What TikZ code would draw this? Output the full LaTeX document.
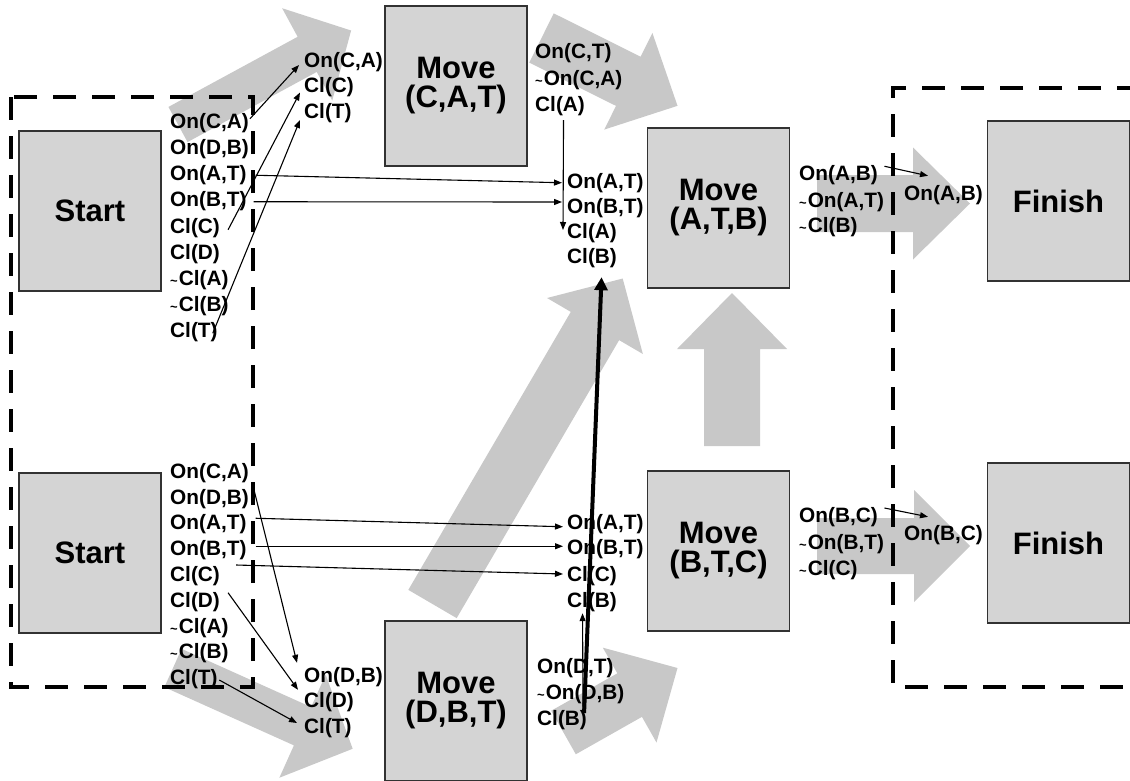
\documentclass[tikz,border=0pt]{standalone}
\usepackage{fontspec}
\setmainfont{Liberation Sans}
\usetikzlibrary{arrows.meta,calc}
\definecolor{fatgray}{RGB}{200,200,200}
\definecolor{boxgray}{RGB}{212,212,212}
\definecolor{boxedge}{RGB}{50,50,50}
\newcommand{\tl}{{\fontsize{13}{13}\selectfont\textasciitilde}\kern1pt}
% #1 x, #2 y (tail centre), #3 angle, #4 length, #5 shaft width, #6 head width, #7 head length
\newcommand{\fatarrow}[7]{%
  \begin{scope}[shift={(#1,#2)},rotate=#3]
    \fill[fatgray] (0,{-#5/2}) -- ({#4-#7},{-#5/2}) -- ({#4-#7},{-#6/2}) -- (#4,0)
      -- ({#4-#7},{#6/2}) -- ({#4-#7},{#5/2}) -- (0,{#5/2}) -- cycle;
  \end{scope}}
\begin{document}
\begin{tikzpicture}[x=1pt,y=-1pt,
  box/.style={draw=boxedge, line width=1.3pt, fill=boxgray, minimum width=142pt,
    minimum height=160pt, inner sep=0pt, align=center,
    font=\bfseries\fontsize{31}{29}\selectfont},
  lit/.style={anchor=base west, inner sep=0pt, text height=15pt, text depth=4.5pt,
    font=\bfseries\fontsize{20.8}{24}\selectfont},
  conn/.style={-{Triangle[length=8pt,width=6pt]}, line width=1.1pt},
  thickconn/.style={-{Triangle[length=13pt,width=13pt]}, line width=4pt},
  dashbox/.style={line width=4.5pt, dash pattern=on 23pt off 16pt}]
\path[use as bounding box] (0,0) rectangle (1130,780);
\clip (0,0) rectangle (1130,780);

% big grey block arrows
\fatarrow{178}{124.5}{28.5}{197}{40}{105}{50}
\fatarrow{541.5}{38}{-26.5}{152}{55}{108}{55}
\fatarrow{173}{668}{-24.2}{197}{42}{113}{55}
\fatarrow{563.5}{732.5}{29.5}{131}{50}{109}{55}
\fatarrow{432.5}{604}{59.7}{377}{56}{111}{55}
\fatarrow{732}{446}{90}{153}{56}{110}{56}
\fatarrow{817}{203.5}{0}{153}{57}{112}{57}
\fatarrow{817}{546}{0}{153}{56}{112}{56}

% boxes
\node[box] (startA) at (90,211) {Start};
\node[box] (startB) at (90,553) {Start};
\node[box] (cat) at (456,86) {Move\\(C,A,T)};
\node[box] (atb) at (718.5,208) {Move\\(A,T,B)};
\node[box] (btc) at (718.5,551) {Move\\(B,T,C)};
\node[box] (dbt) at (456,701) {Move\\(D,B,T)};
\node[box] (finA) at (1058.5,201) {Finish};
\node[box] (finB) at (1058.5,543) {Finish};

% dashed groups
\draw[dashbox] (11,97) rectangle (253,687);
\draw[dashbox] (1140,88) -- (893,88) -- (893,687) -- (1140,687);

% start (top) literals
\node[lit] (sA1) at (170,128) {On(C,A)};
\node[lit] (sA2) at (170,154) {On(D,B)};
\node[lit] (sA3) at (170,180.5) {On(A,T)};
\node[lit] (sA4) at (170,206.5) {On(B,T)};
\node[lit] (sA5) at (170,233) {Cl(C)};
\node[lit] (sA6) at (170,259) {Cl(D)};
\node[lit] (sA7) at (170,285) {\tl Cl(A)};
\node[lit] (sA8) at (170,311.5) {\tl Cl(B)};
\node[lit] (sA9) at (170,337.5) {Cl(T)};
% start (bottom) literals
\node[lit] (sB1) at (170,478) {On(C,A)};
\node[lit] (sB2) at (170,504) {On(D,B)};
\node[lit] (sB3) at (170,529.5) {On(A,T)};
\node[lit] (sB4) at (170,555.5) {On(B,T)};
\node[lit] (sB5) at (170,581) {Cl(C)};
\node[lit] (sB6) at (170,607) {Cl(D)};
\node[lit] (sB7) at (170,633) {\tl Cl(A)};
\node[lit] (sB8) at (170,658.5) {\tl Cl(B)};
\node[lit] (sB9) at (170,684.5) {Cl(T)};
% Move(C,A,T)
\node[lit] (cA1) at (304,67) {On(C,A)};
\node[lit] (cA2) at (304,92.5) {Cl(C)};
\node[lit] (cA3) at (304,118) {Cl(T)};
\node[lit] (cE1) at (535,58) {On(C,T)};
\node[lit] (cE2) at (535,85) {\tl On(C,A)};
\node[lit] (cE3) at (535,111) {Cl(A)};
% Move(A,T,B)
\node[lit] (aP1) at (567,188) {On(A,T)};
\node[lit] (aP2) at (567,213) {On(B,T)};
\node[lit] (aP3) at (567,238) {Cl(A)};
\node[lit] (aP4) at (567,263) {Cl(B)};
\node[lit] (aE1) at (799,180) {On(A,B)};
\node[lit] (aE2) at (799,207) {\tl On(A,T)};
\node[lit] (aE3) at (799,232) {\tl Cl(B)};
\node[lit] (fA) at (904,200) {On(A,B)};
% Move(B,T,C)
\node[lit] (bP1) at (567,529) {On(A,T)};
\node[lit] (bP2) at (567,554.5) {On(B,T)};
\node[lit] (bP3) at (567,581) {Cl(C)};
\node[lit] (bP4) at (567,607) {Cl(B)};
\node[lit] (bE1) at (799,522) {On(B,C)};
\node[lit] (bE2) at (799,549) {\tl On(B,T)};
\node[lit] (bE3) at (799,575) {\tl Cl(C)};
\node[lit] (fB) at (904,540) {On(B,C)};
% Move(D,B,T)
\node[lit] (dP1) at (304,682) {On(D,B)};
\node[lit] (dP2) at (304,707) {Cl(D)};
\node[lit] (dP3) at (304,733) {Cl(T)};
\node[lit] (dE1) at (537,673) {On(D,T)};
\node[lit] (dE2) at (537,699) {\tl On(D,B)};
\node[lit] (dE3) at (537,725) {Cl(B)};

% causal links
\draw[conn] ($(sA1.east)+(1,-4)$) -- ($(cA1.base west)+(-5,-2)$);
\draw[conn] ($(sA5.east)+(8,2)$) -- ($(cA2.base west)+(-4,0)$);
\draw[conn] ($(sA9.east)+(-5,1)$) -- ($(cA3.base west)+(-4,2)$);
\draw[conn] ($(sA3.east)+(9,0)$) -- ($(aP1.west)+(-5,0)$);
\draw[conn] ($(sA4.east)+(7,0.5)$) -- ($(aP2.base west)+(-5,-11)$);
\draw[conn] ($(cE3.south)+(3.5,4.5)$) -- ($(aP3.base west)+(-4,-8)$);
\draw[conn] ($(aE1.east)+(6.5,-8.5)$) -- ($(fA.north west)+(24,-9)$);
\draw[conn] ($(sB2.east)+(5,-9)$) -- ($(dP1.north west)+(-7,-4)$);
\draw[conn] ($(sB6.east)+(8,-9)$) -- ($(dP2.north west)+(-6,-2)$);
\draw[conn] ($(sB9.east)+(1.5,0.75)$) -- ($(dP3.west)+(-7,-4.75)$);
\draw[conn] ($(sB3.east)+(9,-6)$) -- ($(bP1.west)+(-4,3)$);
\draw[conn] ($(sB4.east)+(9,-4)$) -- ($(bP2.west)+(-4,-3)$);
\draw[conn] ($(sB5.east)+(16,-10.75)$) -- ($(bP3.west)+(-4,-1.75)$);
\draw[conn] ($(dE3.base east)+(-4,-13)$) -- ($(bP4.south)+(-9.5,1.5)$);
\draw[thickconn] ($(dE3.base east)+(-3,-12)$) -- ($(aP4.south)+(9.5,9.5)$);
\draw[conn] ($(bE1.east)+(6.5,-8.75)$) -- ($(fB.north west)+(24,-8)$);
\end{tikzpicture}
\end{document}
